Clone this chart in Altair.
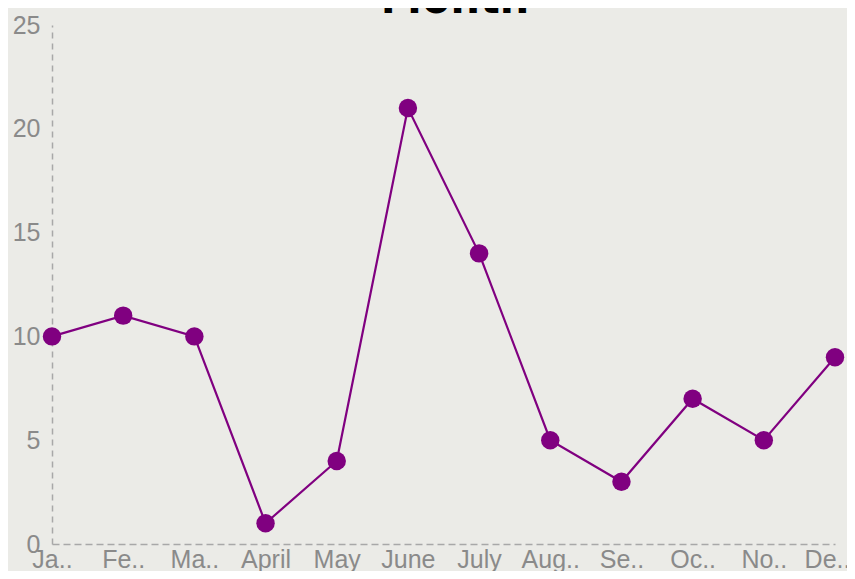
import altair as alt
import pandas as pd
import json

months = ["January", "February", "March", "April", "May", "June",
          "July", "August", "September", "October", "November", "December"]
tick_labels = ["Ja..", "Fe..", "Ma..", "April", "May", "June",
               "July", "Aug..", "Se..", "Oc..", "No..", "De.."]
values = [10, 11, 10, 1, 4, 21, 14, 5, 3, 7, 5, 9]
title_text = "Month"

df = pd.DataFrame({"month": months, "value": values})
label_map = json.dumps(dict(zip(months, tick_labels)))

W, H = 783, 519
PURPLE = "#800080"
AXIS_GRAY = "#a8a8a8"
LABEL_GRAY = "#8a8a8a"

x = alt.X("month:N", sort=months, title=None,
          scale=alt.Scale(type="point", padding=0),
          axis=alt.Axis(labelExpr=f"{label_map}[datum.value]", labelAngle=0,
                        ticks=False, grid=False, domainColor=AXIS_GRAY,
                        domainWidth=1.5, domainDash=[7, 4], labelPadding=3,
                        labelFontSize=25, labelColor=LABEL_GRAY,
                        labelFont="Liberation Sans", labelOverlap=False,
                        labelLimit=200,
                        labelOffset={"condition": {"test": "datum.value === 'December'",
                                                   "value": -8},
                                     "value": 0}))
y = alt.Y("value:Q", title=None,
          scale=alt.Scale(domain=[0, 25], nice=False),
          axis=alt.Axis(values=[0, 5, 10, 15, 20, 25], ticks=False, grid=False,
                        domainColor=AXIS_GRAY, domainWidth=1.5,
                        domainDash=[6, 5], labelPadding=12, labelFontSize=25,
                        labelColor=LABEL_GRAY, labelFont="Liberation Sans"))

base = alt.Chart(df)
line = base.mark_line(color=PURPLE, strokeWidth=2.2).encode(x=x, y=y)
pts = base.mark_circle(color=PURPLE, opacity=1, size=340).encode(x=x, y=y)

title = alt.Chart(pd.DataFrame({"t": [title_text]})).mark_text(
    font="DejaVu Sans Condensed", fontWeight="bold", fontSize=46, color="#000000",
    baseline="alphabetic", align="center"
).encode(text="t:N", x=alt.value(403), y=alt.value(-12))

chart = alt.layer(line, pts, title).properties(
    width=W, height=H,
    background="#ebebe7",
    padding={"left": 44, "top": 17, "right": 12, "bottom": 27},
    autosize=alt.AutoSizeParams(type="none"),
).configure_view(stroke=None)

chart.save("out.html", embed_options={"renderer": "svg", "actions": False})
